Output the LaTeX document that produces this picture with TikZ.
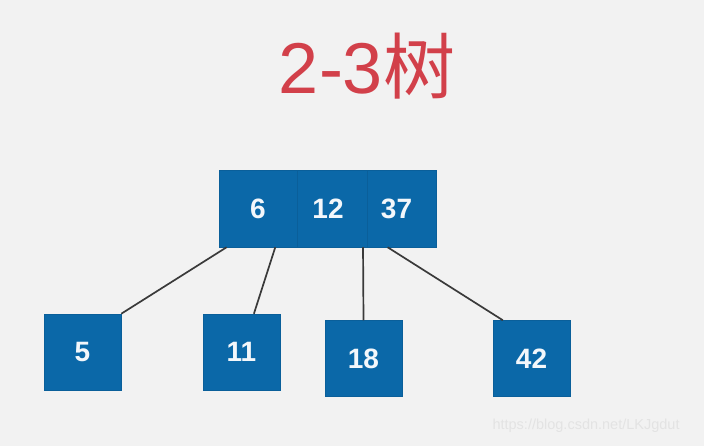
\documentclass[tikz,border=0pt]{standalone}
\usepackage{fontspec}
\setmainfont{Liberation Sans}
\newfontfamily\cjk{Noto Sans CJK SC}
\usepackage{tikz}
\usetikzlibrary{calc}
\definecolor{clBg}{HTML}{F2F2F2}
\definecolor{clKey}{HTML}{0B68A8}
\definecolor{clKeyEdge}{HTML}{0A5F9A}
\definecolor{clTitle}{HTML}{D2404A}
\definecolor{clLink}{HTML}{3A3A3A}
\tikzset{
  keybox/.style={rectangle, fill=clKey, draw=clKeyEdge, line width=0.5pt, inner sep=0pt,
    minimum height=76pt, text=white!95!clKey, font=\fontsize{28}{28}\selectfont\bfseries},
  link/.style={draw=clLink, line width=1.7pt}
}

\begin{document}
\begin{tikzpicture}[x=1pt,y=-1pt]
  \fill[clBg] (0,0) rectangle (704,446);
  \useasboundingbox (0,0) rectangle (704,446);
  \node[font=\fontsize{72}{72}\selectfont, text=clTitle] (title) at (367,66) {2-3{\cjk 树}};
  % root node, three keys
  \node[keybox, minimum width=78pt, minimum height=77pt] (r6) at (258,208.5) {6};
  \node[keybox, minimum width=70pt, minimum height=77pt] (r12) at (332,208.5) {\hspace{-8pt}12};
  \node[keybox, minimum width=69pt, minimum height=77pt] (r37) at (401.5,208.5) {\hspace{-10pt}37};
  % children
  \node[keybox, minimum width=77pt] (c5) at (82.5,352) {5};
  \node[keybox, minimum width=77pt] (c11) at (241.5,352) {11};
  \node[keybox, minimum width=77pt] (c18) at (363.5,358.5) {18};
  \node[keybox, minimum width=77pt] (c42) at (531.5,358.5) {42};
  \draw[link] ($(r6.south west)!0.1!(r6.south east)$) -- (c5.north east);
  \draw[link] ($(r6.south west)!0.72!(r6.south east)$) -- ($(c11.north west)!0.66!(c11.north east)$);
  \draw[link] ($(r12.south west)!0.94!(r12.south east)$) -- (c18.north);
  \draw[link] ($(r37.south west)!0.3!(r37.south east)$) -- ($(c42.north west)!0.13!(c42.north east)$);
  \node[anchor=west, text=black!11, font=\fontsize{14.5}{14.5}\selectfont] (wm) at (489,426) {https://blog.csdn.net/LKJgdut};
\end{tikzpicture}
\end{document}
